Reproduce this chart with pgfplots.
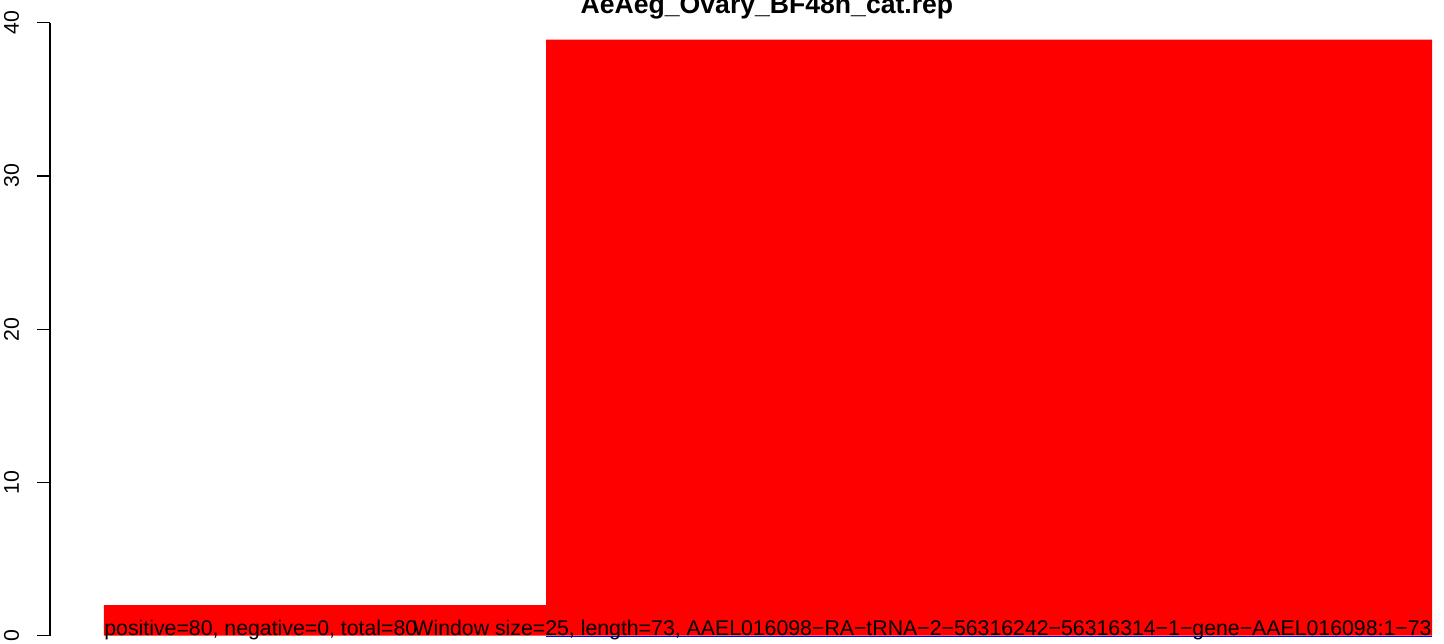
\documentclass[border=0pt]{standalone}
\usepackage{fontspec}
\setmainfont{Liberation Sans}
\usepackage{pgfplots}
\pgfplotsset{compat=1.18}
\begin{document}
\fontsize{10.64}{12}\selectfont
\begin{tikzpicture}
\begin{axis}[
  scale only axis,
  width=697pt, height=321.5pt,
  xmin=50, xmax=1444,
  ymin=-0.476, ymax=41.48,
  clip=false,
  axis x line=none,
  axis y line*=left,
  y axis line style={draw=none},
  xtick=\empty,
  ytick={0,10,20,30,40},
  tick align=outside,
  major tick length=6.5pt,
  tick style={black, line width=0.6pt},
  /pgf/number format/assume math mode=true,
  yticklabel shift={9pt},
  yticklabel style={font=\fontsize{10.64}{12}\selectfont, rotate=90, anchor=base, inner sep=0pt},
]
% bars (x in image pixels, value on y)
\addplot[ybar interval, fill=red, draw=none] coordinates {(104,2) (546,38.9) (1432,38.9)};
% y axis line from 0 to 40
\addplot[black, line width=0.6pt] coordinates {(50,0) (50,40)};
% blue baseline under the second window
\addplot[blue, line width=0.6pt] coordinates {(546,-0.07) (1432,-0.07)};
\node[anchor=base west, inner sep=0pt] at (axis cs:104,0.03) {positive=80, negative=0, total=80};
\node[anchor=base east, inner sep=0pt] at (axis cs:1432,0.03) {Window size=25, length=73, AAEL016098−RA−tRNA−2−56316242−56316314−1−gene−AAEL016098:1−73};
\node[anchor=base, inner sep=0pt, font=\bfseries\fontsize{13.3}{15}\selectfont] at (axis cs:767,40.63) {AeAeg\_Ovary\_BF48h\_cat.rep};
\end{axis}
\pgfresetboundingbox
\path[use as bounding box] (-25pt,0pt) rectangle (697pt,321.5pt);
\end{tikzpicture}
\end{document}
